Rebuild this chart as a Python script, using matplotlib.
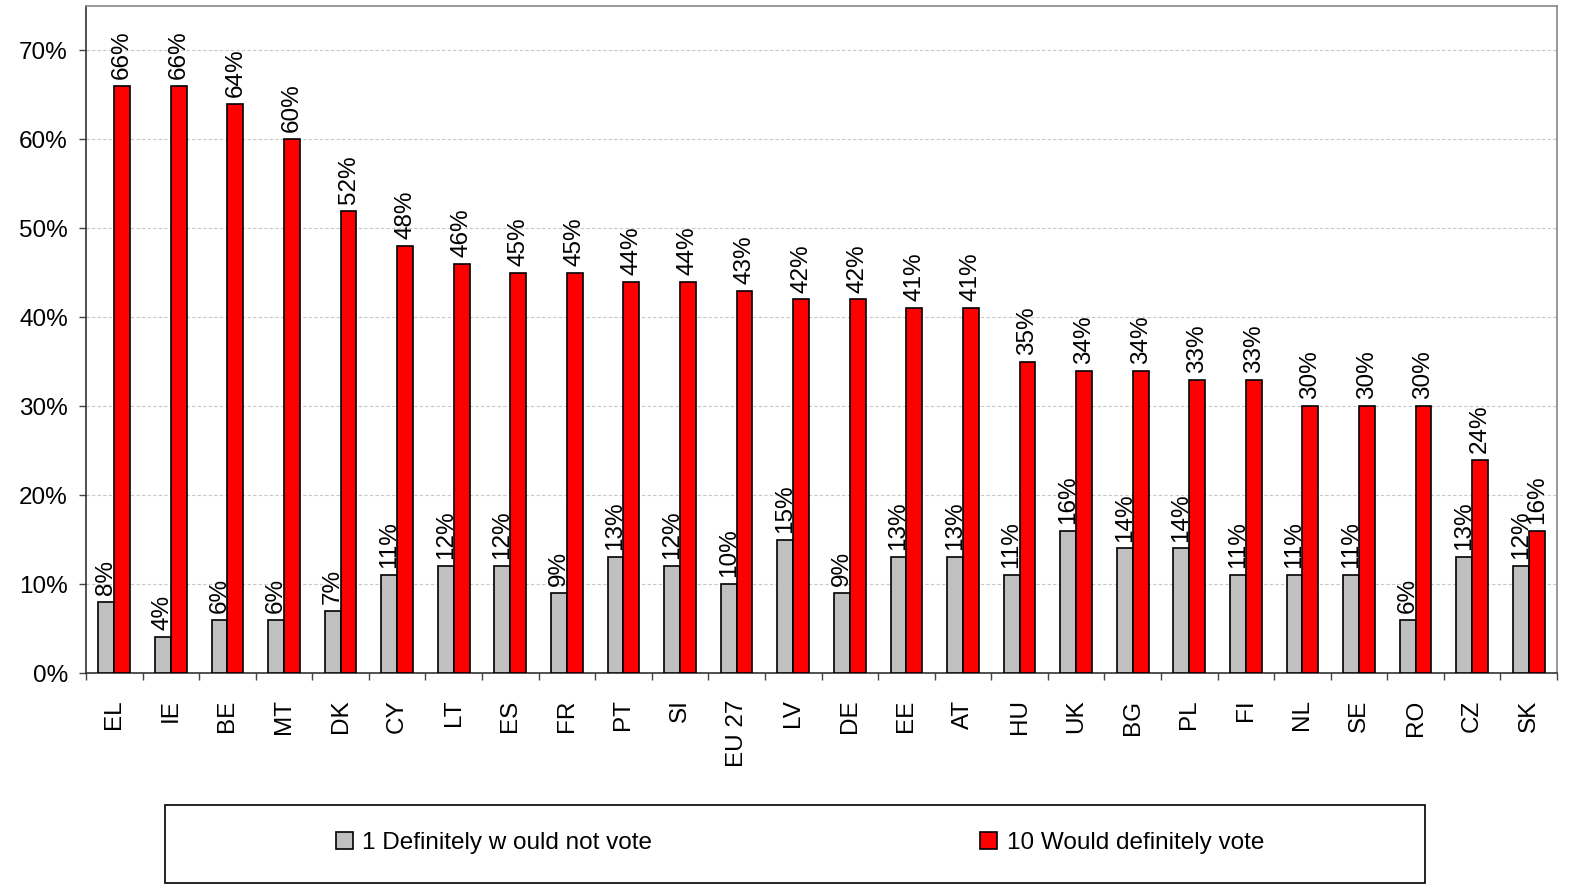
import numpy as np
import matplotlib.pyplot as plt
from matplotlib.patches import Rectangle

plt.rcParams['font.family'] = ['Liberation Sans', 'DejaVu Sans']

# ── DATA ────────────────────────────────────────────────────────────────────
countries = ['EL', 'IE', 'BE', 'MT', 'DK', 'CY', 'LT', 'ES', 'FR', 'PT', 'SI',
             'EU 27', 'LV', 'DE', 'EE', 'AT', 'HU', 'UK', 'BG', 'PL', 'FI',
             'NL', 'SE', 'RO', 'CZ', 'SK']
would_not_vote = [8, 4, 6, 6, 7, 11, 12, 12, 9, 13, 12, 10, 15, 9, 13, 13,
                  11, 16, 14, 14, 11, 11, 11, 6, 13, 12]
would_vote = [66, 66, 64, 60, 52, 48, 46, 45, 45, 44, 44, 43, 42, 42, 41, 41,
              35, 34, 34, 33, 33, 30, 30, 30, 24, 16]
y_ticks = [0, 10, 20, 30, 40, 50, 60, 70]
legend_labels = ['1 Definitely w ould not vote', '10 Would definitely vote']

# ── PLOT ────────────────────────────────────────────────────────────────────
fig = plt.figure(figsize=(15.75, 8.93), dpi=100)
ax = fig.add_axes([86 / 1575, 1 - 673 / 893, (1557 - 86) / 1575, (673 - 6) / 893])

x = np.arange(len(countries))
w = 0.28
b1 = ax.bar(x - w / 2, would_not_vote, w, color='#C0C0C0', edgecolor='black',
            linewidth=1.2, zorder=3, label=legend_labels[0])
b2 = ax.bar(x + w / 2, would_vote, w, color='#FF0000', edgecolor='black',
            linewidth=1.2, zorder=3, label=legend_labels[1])

for xi, v in zip(x, would_not_vote):
    ax.annotate(f'{v}%', (xi - w / 2, v), xytext=(0, 5), textcoords='offset points',
                rotation=90, ha='center', va='bottom', fontsize=17.5)
for xi, v in zip(x, would_vote):
    ax.annotate(f'{v}%', (xi + w / 2, v), xytext=(0, 5), textcoords='offset points',
                rotation=90, ha='center', va='bottom', fontsize=17.5)

ax.set_xlim(-0.5, len(countries) - 0.5)
ax.set_ylim(0, 75)
ax.set_yticks(y_ticks)
ax.set_yticklabels([f'{t}%' for t in y_ticks], fontsize=17.5)
ax.yaxis.grid(True, linestyle=(0, (3, 2)), color='#C8C8C8', linewidth=0.8, zorder=0)

ax.set_xticks(np.arange(len(countries) + 1) - 0.5)
ax.set_xticklabels([])
ax.set_xticks(x, minor=True)
ax.set_xticklabels(countries, minor=True, rotation=90, fontsize=17.5, va='top')
ax.tick_params(axis='x', which='minor', length=0, pad=19)
ax.tick_params(axis='x', which='major', length=5, width=1, color='#444444')
ax.tick_params(axis='y', length=5, width=1, color='#444444', pad=8)

for side in ['left', 'bottom']:
    ax.spines[side].set_color('#333333')
    ax.spines[side].set_linewidth(1.2)
for side in ['top', 'right']:
    ax.spines[side].set_color('#888888')
    ax.spines[side].set_linewidth(1.2)

# legend box
box = Rectangle((165 / 1575, 1 - 883 / 893), (1425 - 165) / 1575, (883 - 805) / 893,
                transform=fig.transFigure, facecolor='white', edgecolor='black',
                linewidth=1.2)
fig.patches.append(box)
fig.legend(handles=[b1, b2], labels=legend_labels, loc='center',
           bbox_to_anchor=(800 / 1575, 1 - 843 / 893), ncol=2, frameon=False,
           fontsize=17.5, handlelength=0.7, handleheight=0.7, handletextpad=0.4,
           columnspacing=13.5)

plt.savefig('out.png', dpi=100)
